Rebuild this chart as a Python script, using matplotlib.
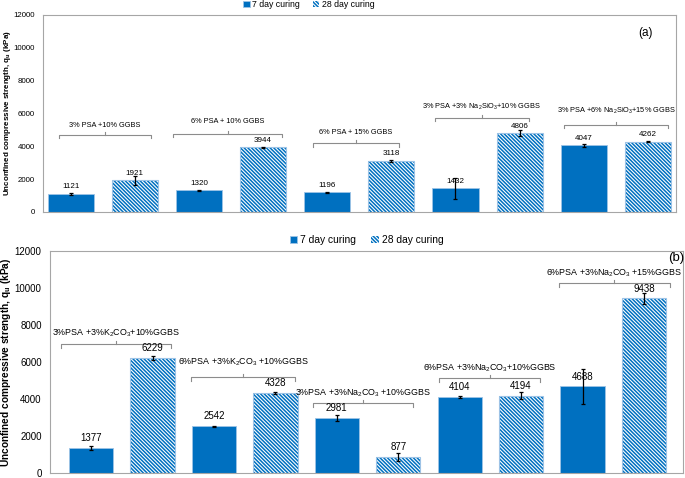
import numpy as np
import matplotlib
matplotlib.use("Agg")
import matplotlib.pyplot as plt

plt.rcParams['font.family'] = ['Liberation Sans', 'DejaVu Sans']
plt.rcParams['mathtext.fontset'] = 'custom'
plt.rcParams['mathtext.rm'] = 'Liberation Sans'
plt.rcParams['mathtext.it'] = 'Liberation Sans:italic'
plt.rcParams['mathtext.bf'] = 'Liberation Sans:bold'
plt.rcParams['hatch.linewidth'] = 1.1

# ---- data: panel (a) ----
groups_a = ['3% PSA +10% GGBS', '6% PSA + 10% GGBS', '6% PSA + 15% GGBS',
            '3% PSA +3% Na$_2$SiO$_3$+10% GGBS', '3% PSA +6% Na$_2$SiO$_3$+15% GGBS']
day7_a = [1121, 1320, 1196, 1432, 4047]
day28_a = [1921, 3944, 3118, 4806, 4262]
err7_a = [60, 40, 20, 640, 100]
err28_a = [270, 30, 60, 200, 30]

# ---- data: panel (b) ----
groups_b = ['3%PSA +3%K$_2$CO$_3$+10%GGBS', '6%PSA +3%K$_2$CO$_3$ +10%GGBS',
            '3%PSA +3%Na$_2$CO$_3$ +10%GGBS', '6%PSA +3%Na$_2$CO$_3$+10%GGBS',
            '6%PSA +3%Na$_2$CO$_3$ +15%GGBS']
day7_b = [1377, 2542, 2981, 4104, 4688]
day28_b = [6229, 4328, 877, 4194, 9438]
err7_b = [100, 20, 160, 50, 950]
err28_b = [100, 50, 225, 200, 315]

# bracket layout (x span in bar slots, y of line, y of text) - hand placed in the original
brk_a = [(-0.18, 1.25, 4690, 5240), (1.6, 3.29, 4750, 5480), (3.78, 5.12, 4200, 4810),
         (5.68, 7.14, 5725, 6390), (7.69, 9.31, 5300, 6150)]
brk_b = [(-0.49, 1.30, 6970, 7560), (1.63, 3.32, 5190, 6000), (3.61, 5.24, 3790, 4330),
         (5.67, 7.31, 5140, 5680), (7.61, 9.43, 10270, 10800)]

BLUE = '#0070C0'
EDGE28 = '#9DC3E6'
GRAY = '#8C8C8C'


def draw_panel(ax, groups, d7, d28, e7, e28, brks, sizes, xlim, tag, tagpos, legx, labx):
    fs_tick, fs_val, fs_brk, fs_leg, fs_tag, fs_lab, voff = sizes
    x7 = np.arange(len(groups)) * 2
    x28 = x7 + 1
    w = 0.72
    b7 = ax.bar(x7, d7, w, color=BLUE, edgecolor=EDGE28, linewidth=0.6,
                label='7 day curing')
    b28 = ax.bar(x28, d28, w, color='white', edgecolor=BLUE, hatch='\\' * 9,
                 linewidth=0, label='28 day curing')
    ax.bar(x28, d28, w, color='none', edgecolor=EDGE28, linewidth=0.8)
    ax.errorbar(x7, d7, yerr=e7, fmt='none', ecolor='black', elinewidth=0.9,
                capsize=1.6, capthick=0.9)
    ax.errorbar(x28, d28, yerr=e28, fmt='none', ecolor='black', elinewidth=0.9,
                capsize=1.6, capthick=0.9)
    for xs, vals in ((x7, d7), (x28, d28)):
        for xi, v in zip(xs, vals):
            ax.annotate(str(v), (xi, v), xytext=(0, voff), textcoords='offset points',
                        ha='center', va='bottom', fontsize=fs_val)
    yr = 12000
    for (x0, x1, yl, yt), g in zip(brks, groups):
        dn = yr * 0.018
        up = yr * 0.014
        ax.plot([x0, x0, x1, x1], [yl - dn, yl, yl, yl - dn], color=GRAY, lw=0.8)
        xm = (x0 + x1) / 2
        ax.plot([xm, xm], [yl, yl + up], color=GRAY, lw=0.8)
        ax.text(xm, yt, g, ha='center', va='center', fontsize=fs_brk)
    ax.set_xlim(*xlim)
    ax.set_ylim(0, 12000)
    ax.set_yticks(np.arange(0, 12001, 2000))
    ax.set_xticks([])
    ax.tick_params(axis='y', length=0, labelsize=fs_tick, pad=6)
    for s in ax.spines.values():
        s.set_color('#A6A6A6')
        s.set_linewidth(0.8)
    ax.text(tagpos[0], tagpos[1], tag, transform=ax.transAxes, ha='center', va='center',
            fontsize=fs_tag)
    ax.legend(handles=[b7, b28], loc='center', bbox_to_anchor=(legx, 1.05), ncol=2,
              frameon=False, fontsize=fs_leg, handlelength=0.7, handleheight=0.7,
              handletextpad=0.3, columnspacing=1.5, borderaxespad=0, borderpad=0)
    ax.set_ylabel('Unconfined compressive strength, q$_\\mathbf{u}$ (kPa)',
                  fontsize=fs_lab, fontweight='bold', va='center')
    ax.yaxis.set_label_coords(labx, 0.5)


fig = plt.figure(figsize=(6.85, 4.78), dpi=100)
ax1 = fig.add_axes([0.063, 0.5565, 0.924, 0.4125])
ax2 = fig.add_axes([0.073, 0.0098, 0.924, 0.4652])

# sizes: tick, value, bracket, legend, tag, ylabel, value offset
draw_panel(ax1, groups_a, day7_a, day28_a, err7_a, err28_a, brk_a,
           (5.7, 5.8, 5.3, 6.3, 8.5, 5.8, 2.5),
           (-0.43, 9.44), '(a)', (0.952, 0.91), 0.42, -0.057)
draw_panel(ax2, groups_b, day7_b, day28_b, err7_b, err28_b, brk_b,
           (7.0, 7.0, 6.4, 7.4, 9.5, 7.3, 3.5),
           (-0.67, 9.635), '(b)', (0.99, 0.97), 0.50, -0.0695)

fig.savefig('out.png', dpi=100)
